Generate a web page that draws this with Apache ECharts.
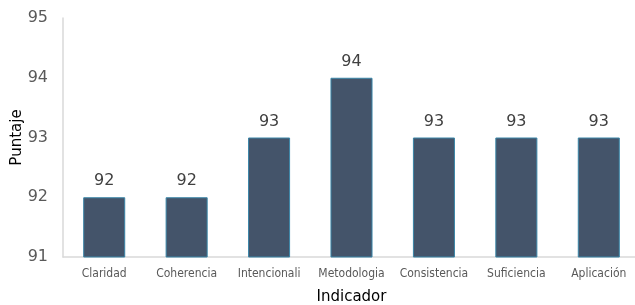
<!DOCTYPE html>
<html>
<head>
<meta charset="utf-8">
<script src="https://cdn.jsdelivr.net/npm/echarts@6/dist/echarts.min.js"></script>
<style>
    html, body { margin: 0; padding: 0; background: #fff; }
    #chart { width: 635px; height: 305px; }
</style>
</head>
<body>
<div id="chart"></div>
<script>
    const categories = ['Claridad', 'Coherencia', 'Intencionali', 'Metodologia', 'Consistencia', 'Suficiencia', 'Aplicación']
    const puntaje = [92, 92, 93, 94, 93, 93, 93]
    const yMin = 91, yMax = 95, yStep = 1

    let myChart = echarts.init(document.getElementById('chart'))
    let option = {
        animation: false,
        textStyle: { fontFamily: 'DejaVu Sans' },
        grid: { left: 63, top: 18, width: 577, height: 239, containLabel: false, outerBoundsMode: 'none' },
        xAxis: {
            type: 'category',
            data: categories,
            name: 'Indicador',
            nameLocation: 'middle',
            nameGap: 33,
            nameMoveOverlap: false,
            nameTextStyle: { fontSize: 15, color: '#000' },
            axisLine: { lineStyle: { color: '#d9d9d9', width: 1.5 } },
            axisTick: { show: false },
            axisLabel: { fontSize: 12, color: '#595959', margin: 11, interval: 0, fontFamily: 'DejaVu Sans Condensed' }
        },
        yAxis: {
            type: 'value',
            min: yMin, max: yMax, interval: yStep,
            name: 'Puntaje',
            nameLocation: 'middle',
            nameGap: 38,
            nameMoveOverlap: false,
            nameTextStyle: { fontSize: 15, color: '#000' },
            axisLine: { show: true, lineStyle: { color: '#d9d9d9', width: 1.5 } },
            axisTick: { show: false },
            splitLine: { show: false },
            axisLabel: { fontSize: 16, color: '#595959', margin: 15 }
        },
        series: [{
            type: 'bar',
            data: puntaje,
            barWidth: '51%',
            itemStyle: { color: '#44546A', borderColor: '#3A86A8', borderWidth: 1 },
            label: { show: true, position: 'top', distance: 8, fontSize: 16, color: '#404040' }
        }]
    }
    myChart.setOption(option)
</script>
</body>
</html>
